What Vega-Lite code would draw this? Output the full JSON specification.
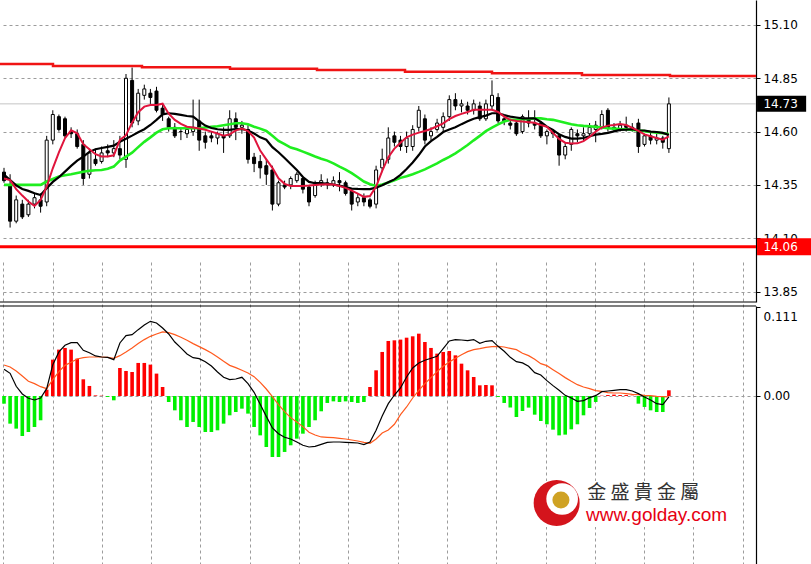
{
"$schema": "https://vega.github.io/schema/vega-lite/v6.json",
"autosize": {"type": "none"},
"padding": {"left": 0, "top": 0, "right": 55, "bottom": 0},
"width": 756,
"height": 564,
"background": "white",
"config": {
"view": {"stroke": null},
"scale": {"continuousPadding": 0},
"axis": {"labelFont": "DejaVu Sans", "labelFontSize": 12, "labelColor": "#000000", "domainColor": "#000000", "tickColor": "#000000", "gridColor": "#9c9c9c", "gridDash": [3, 3], "gridWidth": 1}
},
"datasets": {
"ohlc": [
{"t":0,"o":14.41,"h":14.43,"l":14.36,"c":14.37,"r":14.380,"k":14.398,"g":14.350,"hs":-0.0096,"m":0.0333,"s":0.0387},
{"t":1,"o":14.35,"h":14.40,"l":14.15,"c":14.18,"r":14.373,"k":14.373,"g":14.350,"hs":-0.0345,"m":0.0283,"s":0.0362},
{"t":2,"o":14.18,"h":14.30,"l":14.17,"c":14.28,"r":14.330,"k":14.348,"g":14.350,"hs":-0.0407,"m":0.0121,"s":0.0312},
{"t":3,"o":14.26,"h":14.28,"l":14.19,"c":14.20,"r":14.300,"k":14.331,"g":14.350,"hs":-0.0499,"m":0.0025,"s":0.0249},
{"t":4,"o":14.21,"h":14.28,"l":14.20,"c":14.26,"r":14.272,"k":14.322,"g":14.350,"hs":-0.0449,"m":-0.0029,"s":0.0183},
{"t":5,"o":14.26,"h":14.31,"l":14.24,"c":14.29,"r":14.251,"k":14.311,"g":14.350,"hs":-0.0387,"m":-0.0050,"s":0.0154},
{"t":6,"o":14.28,"h":14.31,"l":14.22,"c":14.25,"r":14.280,"k":14.303,"g":14.350,"hs":-0.0303,"m":-0.0025,"s":0.0116},
{"t":7,"o":14.27,"h":14.58,"l":14.25,"c":14.56,"r":14.342,"k":14.334,"g":14.366,"hs":0.0079,"m":0.0091,"s":0.0091},
{"t":8,"o":14.56,"h":14.70,"l":14.54,"c":14.68,"r":14.428,"k":14.364,"g":14.378,"hs":0.0453,"m":0.0391,"s":0.0204},
{"t":9,"o":14.67,"h":14.68,"l":14.60,"c":14.61,"r":14.503,"k":14.386,"g":14.389,"hs":0.0578,"m":0.0549,"s":0.0303},
{"t":10,"o":14.66,"h":14.67,"l":14.57,"c":14.58,"r":14.569,"k":14.412,"g":14.395,"hs":0.0599,"m":0.0632,"s":0.0382},
{"t":11,"o":14.60,"h":14.62,"l":14.57,"c":14.59,"r":14.606,"k":14.439,"g":14.400,"hs":0.0578,"m":0.0665,"s":0.0420},
{"t":12,"o":14.59,"h":14.61,"l":14.52,"c":14.53,"r":14.592,"k":14.464,"g":14.406,"hs":0.0466,"m":0.0665,"s":0.0461},
{"t":13,"o":14.54,"h":14.56,"l":14.35,"c":14.38,"r":14.541,"k":14.483,"g":14.412,"hs":0.0208,"m":0.0570,"s":0.0478},
{"t":14,"o":14.40,"h":14.52,"l":14.38,"c":14.50,"r":14.517,"k":14.505,"g":14.416,"hs":0.0125,"m":0.0540,"s":0.0486},
{"t":15,"o":14.47,"h":14.52,"l":14.44,"c":14.45,"r":14.494,"k":14.517,"g":14.419,"hs":0.0008,"m":0.0499,"s":0.0486},
{"t":16,"o":14.46,"h":14.53,"l":14.45,"c":14.50,"r":14.483,"k":14.523,"g":14.420,"hs":0.0004,"m":0.0486,"s":0.0486},
{"t":17,"o":14.51,"h":14.54,"l":14.48,"c":14.50,"r":14.483,"k":14.528,"g":14.426,"hs":-0.0012,"m":0.0482,"s":0.0482},
{"t":18,"o":14.50,"h":14.56,"l":14.48,"c":14.52,"r":14.489,"k":14.534,"g":14.436,"hs":-0.0054,"m":0.0453,"s":0.0470},
{"t":19,"o":14.52,"h":14.58,"l":14.47,"c":14.49,"r":14.561,"k":14.552,"g":14.464,"hs":0.0349,"m":0.0661,"s":0.0503},
{"t":20,"o":14.47,"h":14.87,"l":14.43,"c":14.85,"r":14.583,"k":14.566,"g":14.483,"hs":0.0312,"m":0.0752,"s":0.0549},
{"t":21,"o":14.84,"h":14.90,"l":14.62,"c":14.64,"r":14.642,"k":14.581,"g":14.501,"hs":0.0299,"m":0.0765,"s":0.0599},
{"t":22,"o":14.65,"h":14.80,"l":14.63,"c":14.78,"r":14.691,"k":14.597,"g":14.527,"hs":0.0412,"m":0.0827,"s":0.0653},
{"t":23,"o":14.77,"h":14.82,"l":14.75,"c":14.80,"r":14.717,"k":14.611,"g":14.552,"hs":0.0412,"m":0.0885,"s":0.0703},
{"t":24,"o":14.78,"h":14.80,"l":14.73,"c":14.76,"r":14.725,"k":14.631,"g":14.573,"hs":0.0391,"m":0.0931,"s":0.0744},
{"t":25,"o":14.79,"h":14.81,"l":14.69,"c":14.70,"r":14.725,"k":14.655,"g":14.595,"hs":0.0279,"m":0.0910,"s":0.0773},
{"t":26,"o":14.71,"h":14.73,"l":14.65,"c":14.68,"r":14.731,"k":14.681,"g":14.611,"hs":0.0112,"m":0.0848,"s":0.0798},
{"t":27,"o":14.66,"h":14.67,"l":14.60,"c":14.62,"r":14.684,"k":14.686,"g":14.616,"hs":-0.0075,"m":0.0773,"s":0.0790},
{"t":28,"o":14.62,"h":14.64,"l":14.57,"c":14.58,"r":14.655,"k":14.683,"g":14.616,"hs":-0.0179,"m":0.0673,"s":0.0765},
{"t":29,"o":14.60,"h":14.62,"l":14.56,"c":14.60,"r":14.636,"k":14.678,"g":14.616,"hs":-0.0303,"m":0.0599,"s":0.0732},
{"t":30,"o":14.59,"h":14.62,"l":14.57,"c":14.61,"r":14.623,"k":14.673,"g":14.616,"hs":-0.0387,"m":0.0524,"s":0.0694},
{"t":31,"o":14.60,"h":14.75,"l":14.58,"c":14.62,"r":14.619,"k":14.670,"g":14.616,"hs":-0.0324,"m":0.0478,"s":0.0653},
{"t":32,"o":14.65,"h":14.75,"l":14.51,"c":14.56,"r":14.614,"k":14.648,"g":14.616,"hs":-0.0387,"m":0.0466,"s":0.0615},
{"t":33,"o":14.58,"h":14.60,"l":14.52,"c":14.55,"r":14.609,"k":14.628,"g":14.619,"hs":-0.0449,"m":0.0428,"s":0.0578},
{"t":34,"o":14.58,"h":14.60,"l":14.55,"c":14.57,"r":14.600,"k":14.617,"g":14.622,"hs":-0.0449,"m":0.0374,"s":0.0536},
{"t":35,"o":14.57,"h":14.60,"l":14.54,"c":14.59,"r":14.591,"k":14.611,"g":14.625,"hs":-0.0428,"m":0.0299,"s":0.0486},
{"t":36,"o":14.58,"h":14.62,"l":14.50,"c":14.57,"r":14.581,"k":14.608,"g":14.630,"hs":-0.0345,"m":0.0233,"s":0.0432},
{"t":37,"o":14.58,"h":14.70,"l":14.57,"c":14.66,"r":14.587,"k":14.608,"g":14.634,"hs":-0.0241,"m":0.0204,"s":0.0382},
{"t":38,"o":14.66,"h":14.69,"l":14.56,"c":14.62,"r":14.606,"k":14.612,"g":14.639,"hs":-0.0200,"m":0.0212,"s":0.0353},
{"t":39,"o":14.62,"h":14.65,"l":14.59,"c":14.63,"r":14.614,"k":14.612,"g":14.639,"hs":-0.0158,"m":0.0233,"s":0.0320},
{"t":40,"o":14.61,"h":14.63,"l":14.45,"c":14.47,"r":14.602,"k":14.605,"g":14.634,"hs":-0.0220,"m":0.0154,"s":0.0287},
{"t":41,"o":14.48,"h":14.50,"l":14.41,"c":14.45,"r":14.572,"k":14.591,"g":14.623,"hs":-0.0387,"m":0.0046,"s":0.0241},
{"t":42,"o":14.46,"h":14.49,"l":14.38,"c":14.43,"r":14.511,"k":14.573,"g":14.614,"hs":-0.0491,"m":-0.0104,"s":0.0170},
{"t":43,"o":14.44,"h":14.47,"l":14.35,"c":14.40,"r":14.470,"k":14.562,"g":14.603,"hs":-0.0636,"m":-0.0254,"s":0.0087},
{"t":44,"o":14.42,"h":14.44,"l":14.23,"c":14.26,"r":14.430,"k":14.527,"g":14.580,"hs":-0.0761,"m":-0.0399,"s":-0.0008},
{"t":45,"o":14.26,"h":14.37,"l":14.25,"c":14.36,"r":14.381,"k":14.503,"g":14.556,"hs":-0.0761,"m":-0.0470,"s":-0.0108},
{"t":46,"o":14.35,"h":14.37,"l":14.33,"c":14.34,"r":14.355,"k":14.476,"g":14.541,"hs":-0.0698,"m":-0.0515,"s":-0.0195},
{"t":47,"o":14.35,"h":14.39,"l":14.33,"c":14.38,"r":14.345,"k":14.448,"g":14.525,"hs":-0.0615,"m":-0.0536,"s":-0.0270},
{"t":48,"o":14.37,"h":14.41,"l":14.36,"c":14.40,"r":14.345,"k":14.420,"g":14.517,"hs":-0.0532,"m":-0.0574,"s":-0.0324},
{"t":49,"o":14.38,"h":14.39,"l":14.31,"c":14.33,"r":14.345,"k":14.387,"g":14.506,"hs":-0.0470,"m":-0.0615,"s":-0.0382},
{"t":50,"o":14.34,"h":14.35,"l":14.25,"c":14.27,"r":14.347,"k":14.364,"g":14.495,"hs":-0.0387,"m":-0.0636,"s":-0.0453},
{"t":51,"o":14.30,"h":14.37,"l":14.29,"c":14.35,"r":14.350,"k":14.358,"g":14.483,"hs":-0.0303,"m":-0.0628,"s":-0.0486},
{"t":52,"o":14.36,"h":14.40,"l":14.34,"c":14.37,"r":14.352,"k":14.358,"g":14.473,"hs":-0.0191,"m":-0.0603,"s":-0.0511},
{"t":53,"o":14.36,"h":14.38,"l":14.33,"c":14.35,"r":14.353,"k":14.355,"g":14.464,"hs":-0.0087,"m":-0.0578,"s":-0.0515},
{"t":54,"o":14.35,"h":14.39,"l":14.34,"c":14.37,"r":14.352,"k":14.352,"g":14.451,"hs":-0.0067,"m":-0.0574,"s":-0.0520},
{"t":55,"o":14.37,"h":14.41,"l":14.32,"c":14.36,"r":14.345,"k":14.347,"g":14.436,"hs":-0.0075,"m":-0.0574,"s":-0.0528},
{"t":56,"o":14.36,"h":14.37,"l":14.30,"c":14.31,"r":14.336,"k":14.340,"g":14.422,"hs":-0.0067,"m":-0.0578,"s":-0.0536},
{"t":57,"o":14.32,"h":14.33,"l":14.23,"c":14.26,"r":14.323,"k":14.333,"g":14.405,"hs":-0.0075,"m":-0.0582,"s":-0.0549},
{"t":58,"o":14.27,"h":14.31,"l":14.25,"c":14.29,"r":14.309,"k":14.331,"g":14.386,"hs":-0.0087,"m":-0.0586,"s":-0.0561},
{"t":59,"o":14.29,"h":14.31,"l":14.25,"c":14.27,"r":14.294,"k":14.330,"g":14.366,"hs":-0.0075,"m":-0.0607,"s":-0.0578},
{"t":60,"o":14.28,"h":14.29,"l":14.24,"c":14.25,"r":14.298,"k":14.330,"g":14.353,"hs":0.0112,"m":-0.0574,"s":-0.0590},
{"t":61,"o":14.26,"h":14.44,"l":14.24,"c":14.42,"r":14.342,"k":14.337,"g":14.345,"hs":0.0320,"m":-0.0428,"s":-0.0536},
{"t":62,"o":14.43,"h":14.52,"l":14.41,"c":14.47,"r":14.416,"k":14.348,"g":14.352,"hs":0.0549,"m":-0.0249,"s":-0.0461},
{"t":63,"o":14.47,"h":14.62,"l":14.45,"c":14.57,"r":14.480,"k":14.362,"g":14.361,"hs":0.0686,"m":-0.0096,"s":-0.0424},
{"t":64,"o":14.58,"h":14.60,"l":14.53,"c":14.55,"r":14.520,"k":14.376,"g":14.372,"hs":0.0694,"m":0.0012,"s":-0.0353},
{"t":65,"o":14.56,"h":14.58,"l":14.51,"c":14.53,"r":14.548,"k":14.397,"g":14.383,"hs":0.0703,"m":0.0100,"s":-0.0233},
{"t":66,"o":14.53,"h":14.60,"l":14.50,"c":14.57,"r":14.573,"k":14.425,"g":14.391,"hs":0.0727,"m":0.0237,"s":-0.0137},
{"t":67,"o":14.53,"h":14.63,"l":14.51,"c":14.61,"r":14.586,"k":14.455,"g":14.400,"hs":0.0744,"m":0.0349,"s":-0.0025},
{"t":68,"o":14.62,"h":14.72,"l":14.60,"c":14.70,"r":14.595,"k":14.490,"g":14.411,"hs":0.0777,"m":0.0412,"s":0.0071},
{"t":69,"o":14.66,"h":14.68,"l":14.54,"c":14.56,"r":14.603,"k":14.530,"g":14.423,"hs":0.0673,"m":0.0445,"s":0.0154},
{"t":70,"o":14.58,"h":14.62,"l":14.56,"c":14.60,"r":14.612,"k":14.555,"g":14.437,"hs":0.0599,"m":0.0470,"s":0.0229},
{"t":71,"o":14.61,"h":14.66,"l":14.60,"c":14.64,"r":14.625,"k":14.575,"g":14.451,"hs":0.0528,"m":0.0495,"s":0.0303},
{"t":72,"o":14.62,"h":14.69,"l":14.60,"c":14.67,"r":14.639,"k":14.598,"g":14.467,"hs":0.0549,"m":0.0590,"s":0.0370},
{"t":73,"o":14.67,"h":14.77,"l":14.65,"c":14.75,"r":14.658,"k":14.610,"g":14.481,"hs":0.0561,"m":0.0686,"s":0.0424},
{"t":74,"o":14.75,"h":14.78,"l":14.70,"c":14.72,"r":14.673,"k":14.620,"g":14.498,"hs":0.0507,"m":0.0703,"s":0.0470},
{"t":75,"o":14.72,"h":14.75,"l":14.69,"c":14.73,"r":14.683,"k":14.635,"g":14.517,"hs":0.0403,"m":0.0698,"s":0.0515},
{"t":76,"o":14.72,"h":14.74,"l":14.68,"c":14.70,"r":14.692,"k":14.648,"g":14.537,"hs":0.0320,"m":0.0690,"s":0.0553},
{"t":77,"o":14.70,"h":14.75,"l":14.68,"c":14.73,"r":14.702,"k":14.660,"g":14.559,"hs":0.0237,"m":0.0703,"s":0.0578},
{"t":78,"o":14.72,"h":14.74,"l":14.65,"c":14.66,"r":14.702,"k":14.668,"g":14.580,"hs":0.0133,"m":0.0657,"s":0.0590},
{"t":79,"o":14.66,"h":14.75,"l":14.65,"c":14.73,"r":14.702,"k":14.675,"g":14.602,"hs":0.0137,"m":0.0682,"s":0.0607},
{"t":80,"o":14.72,"h":14.84,"l":14.70,"c":14.77,"r":14.702,"k":14.686,"g":14.619,"hs":0.0133,"m":0.0690,"s":0.0615},
{"t":81,"o":14.76,"h":14.78,"l":14.64,"c":14.65,"r":14.692,"k":14.686,"g":14.634,"hs":-0.0012,"m":0.0619,"s":0.0619},
{"t":82,"o":14.66,"h":14.67,"l":14.63,"c":14.65,"r":14.670,"k":14.677,"g":14.647,"hs":-0.0087,"m":0.0557,"s":0.0611},
{"t":83,"o":14.64,"h":14.66,"l":14.61,"c":14.63,"r":14.655,"k":14.670,"g":14.655,"hs":-0.0145,"m":0.0482,"s":0.0594},
{"t":84,"o":14.64,"h":14.65,"l":14.58,"c":14.59,"r":14.650,"k":14.666,"g":14.656,"hs":-0.0262,"m":0.0428,"s":0.0578},
{"t":85,"o":14.60,"h":14.68,"l":14.59,"c":14.67,"r":14.647,"k":14.662,"g":14.658,"hs":-0.0187,"m":0.0412,"s":0.0532},
{"t":86,"o":14.66,"h":14.70,"l":14.62,"c":14.64,"r":14.644,"k":14.662,"g":14.659,"hs":-0.0145,"m":0.0370,"s":0.0503},
{"t":87,"o":14.64,"h":14.70,"l":14.61,"c":14.63,"r":14.641,"k":14.662,"g":14.662,"hs":-0.0233,"m":0.0291,"s":0.0457},
{"t":88,"o":14.64,"h":14.65,"l":14.57,"c":14.58,"r":14.631,"k":14.645,"g":14.662,"hs":-0.0312,"m":0.0262,"s":0.0403},
{"t":89,"o":14.58,"h":14.61,"l":14.54,"c":14.60,"r":14.623,"k":14.623,"g":14.658,"hs":-0.0353,"m":0.0191,"s":0.0378},
{"t":90,"o":14.60,"h":14.61,"l":14.57,"c":14.59,"r":14.594,"k":14.608,"g":14.655,"hs":-0.0420,"m":0.0129,"s":0.0328},
{"t":91,"o":14.58,"h":14.59,"l":14.44,"c":14.49,"r":14.566,"k":14.587,"g":14.648,"hs":-0.0491,"m":0.0071,"s":0.0279},
{"t":92,"o":14.49,"h":14.55,"l":14.47,"c":14.53,"r":14.548,"k":14.575,"g":14.641,"hs":-0.0482,"m":0.0008,"s":0.0229},
{"t":93,"o":14.54,"h":14.62,"l":14.51,"c":14.61,"r":14.544,"k":14.567,"g":14.634,"hs":-0.0416,"m":-0.0025,"s":0.0183},
{"t":94,"o":14.59,"h":14.61,"l":14.55,"c":14.58,"r":14.545,"k":14.567,"g":14.630,"hs":-0.0353,"m":-0.0067,"s":0.0141},
{"t":95,"o":14.58,"h":14.62,"l":14.56,"c":14.59,"r":14.555,"k":14.570,"g":14.627,"hs":-0.0241,"m":-0.0058,"s":0.0112},
{"t":96,"o":14.59,"h":14.64,"l":14.58,"c":14.62,"r":14.575,"k":14.578,"g":14.625,"hs":-0.0150,"m":-0.0021,"s":0.0091},
{"t":97,"o":14.61,"h":14.65,"l":14.55,"c":14.63,"r":14.600,"k":14.586,"g":14.622,"hs":-0.0075,"m":0.0004,"s":0.0067},
{"t":98,"o":14.62,"h":14.70,"l":14.61,"c":14.68,"r":14.619,"k":14.589,"g":14.619,"hs":0.0004,"m":0.0054,"s":0.0058},
{"t":99,"o":14.70,"h":14.71,"l":14.60,"c":14.62,"r":14.628,"k":14.594,"g":14.616,"hs":0.0012,"m":0.0062,"s":0.0042},
{"t":100,"o":14.62,"h":14.64,"l":14.60,"c":14.61,"r":14.631,"k":14.601,"g":14.614,"hs":0.0017,"m":0.0071,"s":0.0037},
{"t":101,"o":14.61,"h":14.65,"l":14.60,"c":14.63,"r":14.636,"k":14.608,"g":14.612,"hs":0.0012,"m":0.0079,"s":0.0037},
{"t":102,"o":14.63,"h":14.67,"l":14.60,"c":14.62,"r":14.631,"k":14.609,"g":14.611,"hs":0.0012,"m":0.0079,"s":0.0029},
{"t":103,"o":14.62,"h":14.64,"l":14.60,"c":14.61,"r":14.617,"k":14.611,"g":14.608,"hs":0.0004,"m":0.0062,"s":0.0021},
{"t":104,"o":14.64,"h":14.66,"l":14.50,"c":14.53,"r":14.603,"k":14.606,"g":14.605,"hs":-0.0096,"m":0.0029,"s":0.0017},
{"t":105,"o":14.54,"h":14.59,"l":14.53,"c":14.58,"r":14.587,"k":14.605,"g":14.602,"hs":-0.0137,"m":-0.0012,"s":0.0008},
{"t":106,"o":14.58,"h":14.60,"l":14.54,"c":14.56,"r":14.578,"k":14.600,"g":14.598,"hs":-0.0179,"m":-0.0050,"s":0.0004},
{"t":107,"o":14.56,"h":14.59,"l":14.54,"c":14.57,"r":14.570,"k":14.598,"g":14.595,"hs":-0.0200,"m":-0.0096,"s":-0.0004},
{"t":108,"o":14.57,"h":14.58,"l":14.52,"c":14.55,"r":14.562,"k":14.594,"g":14.592,"hs":-0.0200,"m":-0.0108,"s":-0.0008},
{"t":109,"o":14.52,"h":14.76,"l":14.50,"c":14.73,"r":14.578,"k":14.584,"g":14.589,"hs":0.0071,"m":-0.0012,"s":-0.0012}
],
"resist": [
{"t":-0.66,"p":14.917},{"t":8.03,"p":14.908},{"t":22.62,"p":14.902},{"t":37.05,"p":14.895},{"t":51.31,"p":14.889},{"t":65.74,"p":14.881},{"t":80.0,"p":14.873},{"t":94.75,"p":14.865},{"t":109.18,"p":14.861},{"t":123.28,"p":14.861}
],
"tags": [
{"p":14.73,"label":"14.73","kind":"price"},
{"p":14.06,"label":"14.06","kind":"support"}
],
"info": [
{"name":"金  盛  貴  金  屬","site":"www.golday.com"}
]
},
"resolve": {"scale": {"y": "independent"}, "axis": {"y": "independent"}},
"layer": [
{
"layer": [
{
"data": {"name": "tags"},
"mark": {"type": "rule", "clip": true},
"encoding": {
"y": {"field": "p", "type": "quantitative", "scale": {"domain": [13.801, 15.217], "range": [302, 0], "nice": false, "zero": false, "padding": 0},
"axis": {"orient": "right", "values": [13.85, 14.1, 14.35, 14.6, 14.85, 15.1], "format": ".2f", "tickSize": 4, "labelPadding": 3, "grid": true, "title": null, "domainWidth": 1.2}},
"color": {"condition": {"test": "datum.kind == 'support'", "value": "#ff0000"}, "value": "#c4c4c4"},
"strokeWidth": {"condition": {"test": "datum.kind == 'support'", "value": 3}, "value": 1}
}
},
{
"data": {"name": "info"},
"mark": {"type": "rule", "color": "#000000", "strokeWidth": 1.2},
"encoding": {
"y": {"datum": 13.801, "type": "quantitative", "scale": {"domain": [13.801, 15.217], "range": [302, 0], "nice": false, "zero": false, "padding": 0},
"axis": {"orient": "right", "values": [13.85, 14.1, 14.35, 14.6, 14.85, 15.1], "format": ".2f", "tickSize": 4, "labelPadding": 3, "grid": true, "title": null, "domainWidth": 1.2}}
}
},
{
"data": {"name": "resist"},
"mark": {"type": "line", "clip": true, "interpolate": "step-after", "color": "#f01414", "strokeWidth": 2.5},
"encoding": {
"x": {"field": "t", "type": "quantitative", "scale": {"domain": [-0.656, 123.28], "nice": false, "zero": false, "padding": 0},
"axis": {"orient": "bottom", "values": [-0.11, 7.97, 16.05, 24.13, 32.21, 40.3, 48.38, 56.46, 64.54, 72.62, 80.7, 88.79, 96.87, 104.95, 113.03, 121.11], "labels": false, "ticks": false, "domain": false, "grid": true, "title": null}},
"y": {"field": "p", "type": "quantitative", "scale": {"domain": [13.801, 15.217], "range": [302, 0], "nice": false, "zero": false, "padding": 0},
"axis": {"orient": "right", "values": [13.85, 14.1, 14.35, 14.6, 14.85, 15.1], "format": ".2f", "tickSize": 4, "labelPadding": 3, "grid": true, "title": null, "domainWidth": 1.2}}
}
},
{
"data": {"name": "ohlc"},
"mark": {"type": "rule", "clip": true, "color": "#000000", "strokeWidth": 1},
"encoding": {
"x": {"field": "t", "type": "quantitative", "scale": {"domain": [-0.656, 123.28], "nice": false, "zero": false, "padding": 0},
"axis": {"orient": "bottom", "values": [-0.11, 7.97, 16.05, 24.13, 32.21, 40.3, 48.38, 56.46, 64.54, 72.62, 80.7, 88.79, 96.87, 104.95, 113.03, 121.11], "labels": false, "ticks": false, "domain": false, "grid": true, "title": null}},
"y": {"field": "l", "type": "quantitative", "scale": {"domain": [13.801, 15.217], "range": [302, 0], "nice": false, "zero": false, "padding": 0},
"axis": {"orient": "right", "values": [13.85, 14.1, 14.35, 14.6, 14.85, 15.1], "format": ".2f", "tickSize": 4, "labelPadding": 3, "grid": true, "title": null, "domainWidth": 1.2}},
"y2": {"field": "h"}
}
},
{
"data": {"name": "ohlc"},
"mark": {"type": "bar", "clip": true, "size": 3, "stroke": "#000000", "strokeWidth": 1},
"encoding": {
"x": {"field": "t", "type": "quantitative", "scale": {"domain": [-0.656, 123.28], "nice": false, "zero": false, "padding": 0},
"axis": {"orient": "bottom", "values": [-0.11, 7.97, 16.05, 24.13, 32.21, 40.3, 48.38, 56.46, 64.54, 72.62, 80.7, 88.79, 96.87, 104.95, 113.03, 121.11], "labels": false, "ticks": false, "domain": false, "grid": true, "title": null}},
"y": {"field": "o", "type": "quantitative", "scale": {"domain": [13.801, 15.217], "range": [302, 0], "nice": false, "zero": false, "padding": 0},
"axis": {"orient": "right", "values": [13.85, 14.1, 14.35, 14.6, 14.85, 15.1], "format": ".2f", "tickSize": 4, "labelPadding": 3, "grid": true, "title": null, "domainWidth": 1.2}},
"y2": {"field": "c"},
"fill": {"condition": {"test": "datum.c >= datum.o", "value": "#ffffff"}, "value": "#000000"}
}
},
{
"data": {"name": "ohlc"},
"mark": {"type": "line", "clip": true, "color": "#1fee1f", "strokeWidth": 2.6},
"encoding": {
"x": {"field": "t", "type": "quantitative", "scale": {"domain": [-0.656, 123.28], "nice": false, "zero": false, "padding": 0},
"axis": {"orient": "bottom", "values": [-0.11, 7.97, 16.05, 24.13, 32.21, 40.3, 48.38, 56.46, 64.54, 72.62, 80.7, 88.79, 96.87, 104.95, 113.03, 121.11], "labels": false, "ticks": false, "domain": false, "grid": true, "title": null}},
"y": {"field": "g", "type": "quantitative", "scale": {"domain": [13.801, 15.217], "range": [302, 0], "nice": false, "zero": false, "padding": 0},
"axis": {"orient": "right", "values": [13.85, 14.1, 14.35, 14.6, 14.85, 15.1], "format": ".2f", "tickSize": 4, "labelPadding": 3, "grid": true, "title": null, "domainWidth": 1.2}}
}
},
{
"data": {"name": "ohlc"},
"mark": {"type": "line", "clip": true, "color": "#000000", "strokeWidth": 2.2},
"encoding": {
"x": {"field": "t", "type": "quantitative", "scale": {"domain": [-0.656, 123.28], "nice": false, "zero": false, "padding": 0},
"axis": {"orient": "bottom", "values": [-0.11, 7.97, 16.05, 24.13, 32.21, 40.3, 48.38, 56.46, 64.54, 72.62, 80.7, 88.79, 96.87, 104.95, 113.03, 121.11], "labels": false, "ticks": false, "domain": false, "grid": true, "title": null}},
"y": {"field": "k", "type": "quantitative", "scale": {"domain": [13.801, 15.217], "range": [302, 0], "nice": false, "zero": false, "padding": 0},
"axis": {"orient": "right", "values": [13.85, 14.1, 14.35, 14.6, 14.85, 15.1], "format": ".2f", "tickSize": 4, "labelPadding": 3, "grid": true, "title": null, "domainWidth": 1.2}}
}
},
{
"data": {"name": "ohlc"},
"mark": {"type": "line", "clip": true, "color": "#e0143c", "strokeWidth": 2},
"encoding": {
"x": {"field": "t", "type": "quantitative", "scale": {"domain": [-0.656, 123.28], "nice": false, "zero": false, "padding": 0},
"axis": {"orient": "bottom", "values": [-0.11, 7.97, 16.05, 24.13, 32.21, 40.3, 48.38, 56.46, 64.54, 72.62, 80.7, 88.79, 96.87, 104.95, 113.03, 121.11], "labels": false, "ticks": false, "domain": false, "grid": true, "title": null}},
"y": {"field": "r", "type": "quantitative", "scale": {"domain": [13.801, 15.217], "range": [302, 0], "nice": false, "zero": false, "padding": 0},
"axis": {"orient": "right", "values": [13.85, 14.1, 14.35, 14.6, 14.85, 15.1], "format": ".2f", "tickSize": 4, "labelPadding": 3, "grid": true, "title": null, "domainWidth": 1.2}}
}
},
{
"data": {"name": "tags"},
"transform": [{"filter": "datum.kind == 'price'"}],
"mark": {"type": "bar", "size": 16, "color": "#000000"},
"encoding": {
"x": {"datum": 123.45, "type": "quantitative", "scale": {"domain": [-0.656, 123.28], "nice": false, "zero": false, "padding": 0},
"axis": {"orient": "bottom", "values": [-0.11, 7.97, 16.05, 24.13, 32.21, 40.3, 48.38, 56.46, 64.54, 72.62, 80.7, 88.79, 96.87, 104.95, 113.03, 121.11], "labels": false, "ticks": false, "domain": false, "grid": true, "title": null}},
"x2": {"datum": 131.5},
"y": {"field": "p", "type": "quantitative", "scale": {"domain": [13.801, 15.217], "range": [302, 0], "nice": false, "zero": false, "padding": 0},
"axis": {"orient": "right", "values": [13.85, 14.1, 14.35, 14.6, 14.85, 15.1], "format": ".2f", "tickSize": 4, "labelPadding": 3, "grid": true, "title": null, "domainWidth": 1.2}}
}
},
{
"data": {"name": "tags"},
"transform": [{"filter": "datum.kind == 'support'"}],
"mark": {"type": "bar", "size": 17, "color": "#ff0000"},
"encoding": {
"x": {"datum": 123.45, "type": "quantitative", "scale": {"domain": [-0.656, 123.28], "nice": false, "zero": false, "padding": 0},
"axis": {"orient": "bottom", "values": [-0.11, 7.97, 16.05, 24.13, 32.21, 40.3, 48.38, 56.46, 64.54, 72.62, 80.7, 88.79, 96.87, 104.95, 113.03, 121.11], "labels": false, "ticks": false, "domain": false, "grid": true, "title": null}},
"x2": {"datum": 132.3},
"y": {"field": "p", "type": "quantitative", "scale": {"domain": [13.801, 15.217], "range": [302, 0], "nice": false, "zero": false, "padding": 0},
"axis": {"orient": "right", "values": [13.85, 14.1, 14.35, 14.6, 14.85, 15.1], "format": ".2f", "tickSize": 4, "labelPadding": 3, "grid": true, "title": null, "domainWidth": 1.2}}
}
},
{
"data": {"name": "tags"},
"mark": {"type": "text", "align": "left", "baseline": "middle", "font": "DejaVu Sans", "fontSize": 12, "color": "#ffffff"},
"encoding": {
"x": {"datum": 124.5, "type": "quantitative", "scale": {"domain": [-0.656, 123.28], "nice": false, "zero": false, "padding": 0},
"axis": {"orient": "bottom", "values": [-0.11, 7.97, 16.05, 24.13, 32.21, 40.3, 48.38, 56.46, 64.54, 72.62, 80.7, 88.79, 96.87, 104.95, 113.03, 121.11], "labels": false, "ticks": false, "domain": false, "grid": true, "title": null}},
"y": {"field": "p", "type": "quantitative", "scale": {"domain": [13.801, 15.217], "range": [302, 0], "nice": false, "zero": false, "padding": 0},
"axis": {"orient": "right", "values": [13.85, 14.1, 14.35, 14.6, 14.85, 15.1], "format": ".2f", "tickSize": 4, "labelPadding": 3, "grid": true, "title": null, "domainWidth": 1.2}},
"text": {"field": "label"}
}
}
]
},
{
"layer": [
{
"data": {"name": "info"},
"mark": {"type": "rule", "color": "#000000", "strokeWidth": 1.2},
"encoding": {
"y": {"datum": 0.1122, "type": "quantitative", "scale": {"domain": [-0.2095, 0.1122], "range": [564, 306], "nice": false, "zero": false, "padding": 0},
"axis": {"orient": "right", "values": [0.111, 0], "labelExpr": "datum.value == 0 ? '0.00' : '0.111'", "tickSize": 4, "labelPadding": 3, "grid": true, "gridOpacity": {"condition": {"test": "datum.value == 0", "value": 1}, "value": 0}, "labelOffset": {"condition": {"test": "datum.value > 0.05", "value": 10}, "value": 0}, "title": null, "domainWidth": 1.2}}
}
},
{
"data": {"name": "ohlc"},
"mark": {"type": "bar", "clip": true, "size": 3.6},
"encoding": {
"x": {"field": "t", "type": "quantitative", "scale": {"domain": [-0.656, 123.28], "nice": false, "zero": false, "padding": 0},
"axis": {"orient": "bottom", "values": [-0.11, 7.97, 16.05, 24.13, 32.21, 40.3, 48.38, 56.46, 64.54, 72.62, 80.7, 88.79, 96.87, 104.95, 113.03, 121.11], "labels": false, "ticks": false, "domain": false, "grid": true, "title": null}},
"y": {"field": "hs", "type": "quantitative", "scale": {"domain": [-0.2095, 0.1122], "range": [564, 306], "nice": false, "zero": false, "padding": 0},
"axis": {"orient": "right", "values": [0.111, 0], "labelExpr": "datum.value == 0 ? '0.00' : '0.111'", "tickSize": 4, "labelPadding": 3, "grid": true, "gridOpacity": {"condition": {"test": "datum.value == 0", "value": 1}, "value": 0}, "labelOffset": {"condition": {"test": "datum.value > 0.05", "value": 10}, "value": 0}, "title": null, "domainWidth": 1.2}},
"y2": {"datum": 0},
"color": {"condition": {"test": "datum.hs >= 0", "value": "#ff0000"}, "value": "#00f000"}
}
},
{
"data": {"name": "ohlc"},
"mark": {"type": "line", "clip": true, "color": "#ff5a1e", "strokeWidth": 1.2},
"encoding": {
"x": {"field": "t", "type": "quantitative", "scale": {"domain": [-0.656, 123.28], "nice": false, "zero": false, "padding": 0},
"axis": {"orient": "bottom", "values": [-0.11, 7.97, 16.05, 24.13, 32.21, 40.3, 48.38, 56.46, 64.54, 72.62, 80.7, 88.79, 96.87, 104.95, 113.03, 121.11], "labels": false, "ticks": false, "domain": false, "grid": true, "title": null}},
"y": {"field": "s", "type": "quantitative", "scale": {"domain": [-0.2095, 0.1122], "range": [564, 306], "nice": false, "zero": false, "padding": 0},
"axis": {"orient": "right", "values": [0.111, 0], "labelExpr": "datum.value == 0 ? '0.00' : '0.111'", "tickSize": 4, "labelPadding": 3, "grid": true, "gridOpacity": {"condition": {"test": "datum.value == 0", "value": 1}, "value": 0}, "labelOffset": {"condition": {"test": "datum.value > 0.05", "value": 10}, "value": 0}, "title": null, "domainWidth": 1.2}}
}
},
{
"data": {"name": "ohlc"},
"mark": {"type": "line", "clip": true, "color": "#000000", "strokeWidth": 1.2},
"encoding": {
"x": {"field": "t", "type": "quantitative", "scale": {"domain": [-0.656, 123.28], "nice": false, "zero": false, "padding": 0},
"axis": {"orient": "bottom", "values": [-0.11, 7.97, 16.05, 24.13, 32.21, 40.3, 48.38, 56.46, 64.54, 72.62, 80.7, 88.79, 96.87, 104.95, 113.03, 121.11], "labels": false, "ticks": false, "domain": false, "grid": true, "title": null}},
"y": {"field": "m", "type": "quantitative", "scale": {"domain": [-0.2095, 0.1122], "range": [564, 306], "nice": false, "zero": false, "padding": 0},
"axis": {"orient": "right", "values": [0.111, 0], "labelExpr": "datum.value == 0 ? '0.00' : '0.111'", "tickSize": 4, "labelPadding": 3, "grid": true, "gridOpacity": {"condition": {"test": "datum.value == 0", "value": 1}, "value": 0}, "labelOffset": {"condition": {"test": "datum.value > 0.05", "value": 10}, "value": 0}, "title": null, "domainWidth": 1.2}}
}
},
{
"data": {"name": "info"},
"mark": {"type": "rect", "color": "#ffffff"},
"encoding": {
"x": {"datum": 86.6, "type": "quantitative", "scale": {"domain": [-0.656, 123.28], "nice": false, "zero": false, "padding": 0},
"axis": {"orient": "bottom", "values": [-0.11, 7.97, 16.05, 24.13, 32.21, 40.3, 48.38, 56.46, 64.54, 72.62, 80.7, 88.79, 96.87, 104.95, 113.03, 121.11], "labels": false, "ticks": false, "domain": false, "grid": true, "title": null}},
"x2": {"datum": 119.8},
"y": {"datum": -0.106, "type": "quantitative", "scale": {"domain": [-0.2095, 0.1122], "range": [564, 306], "nice": false, "zero": false, "padding": 0},
"axis": {"orient": "right", "values": [0.111, 0], "labelExpr": "datum.value == 0 ? '0.00' : '0.111'", "tickSize": 4, "labelPadding": 3, "grid": true, "gridOpacity": {"condition": {"test": "datum.value == 0", "value": 1}, "value": 0}, "labelOffset": {"condition": {"test": "datum.value > 0.05", "value": 10}, "value": 0}, "title": null, "domainWidth": 1.2}},
"y2": {"datum": -0.1634}
}
},
{
"data": {"name": "info"},
"mark": {"type": "point", "shape": "circle", "filled": true, "size": 2116, "color": "#d4141c", "opacity": 1},
"encoding": {
"x": {"datum": 90.6, "type": "quantitative", "scale": {"domain": [-0.656, 123.28], "nice": false, "zero": false, "padding": 0},
"axis": {"orient": "bottom", "values": [-0.11, 7.97, 16.05, 24.13, 32.21, 40.3, 48.38, 56.46, 64.54, 72.62, 80.7, 88.79, 96.87, 104.95, 113.03, 121.11], "labels": false, "ticks": false, "domain": false, "grid": true, "title": null}},
"y": {"datum": -0.1334, "type": "quantitative", "scale": {"domain": [-0.2095, 0.1122], "range": [564, 306], "nice": false, "zero": false, "padding": 0},
"axis": {"orient": "right", "values": [0.111, 0], "labelExpr": "datum.value == 0 ? '0.00' : '0.111'", "tickSize": 4, "labelPadding": 3, "grid": true, "gridOpacity": {"condition": {"test": "datum.value == 0", "value": 1}, "value": 0}, "labelOffset": {"condition": {"test": "datum.value > 0.05", "value": 10}, "value": 0}, "title": null, "domainWidth": 1.2}}
}
},
{
"data": {"name": "info"},
"mark": {"type": "point", "shape": "circle", "filled": true, "size": 1000, "color": "#ffffff", "opacity": 1},
"encoding": {
"x": {"datum": 91.5, "type": "quantitative", "scale": {"domain": [-0.656, 123.28], "nice": false, "zero": false, "padding": 0},
"axis": {"orient": "bottom", "values": [-0.11, 7.97, 16.05, 24.13, 32.21, 40.3, 48.38, 56.46, 64.54, 72.62, 80.7, 88.79, 96.87, 104.95, 113.03, 121.11], "labels": false, "ticks": false, "domain": false, "grid": true, "title": null}},
"y": {"datum": -0.1284, "type": "quantitative", "scale": {"domain": [-0.2095, 0.1122], "range": [564, 306], "nice": false, "zero": false, "padding": 0},
"axis": {"orient": "right", "values": [0.111, 0], "labelExpr": "datum.value == 0 ? '0.00' : '0.111'", "tickSize": 4, "labelPadding": 3, "grid": true, "gridOpacity": {"condition": {"test": "datum.value == 0", "value": 1}, "value": 0}, "labelOffset": {"condition": {"test": "datum.value > 0.05", "value": 10}, "value": 0}, "title": null, "domainWidth": 1.2}}
}
},
{
"data": {"name": "info"},
"mark": {"type": "point", "shape": "circle", "filled": true, "size": 290, "color": "#cfa224", "opacity": 1},
"encoding": {
"x": {"datum": 91.3, "type": "quantitative", "scale": {"domain": [-0.656, 123.28], "nice": false, "zero": false, "padding": 0},
"axis": {"orient": "bottom", "values": [-0.11, 7.97, 16.05, 24.13, 32.21, 40.3, 48.38, 56.46, 64.54, 72.62, 80.7, 88.79, 96.87, 104.95, 113.03, 121.11], "labels": false, "ticks": false, "domain": false, "grid": true, "title": null}},
"y": {"datum": -0.1297, "type": "quantitative", "scale": {"domain": [-0.2095, 0.1122], "range": [564, 306], "nice": false, "zero": false, "padding": 0},
"axis": {"orient": "right", "values": [0.111, 0], "labelExpr": "datum.value == 0 ? '0.00' : '0.111'", "tickSize": 4, "labelPadding": 3, "grid": true, "gridOpacity": {"condition": {"test": "datum.value == 0", "value": 1}, "value": 0}, "labelOffset": {"condition": {"test": "datum.value > 0.05", "value": 10}, "value": 0}, "title": null, "domainWidth": 1.2}}
}
},
{
"data": {"name": "info"},
"mark": {"type": "text", "align": "left", "baseline": "middle", "font": "Noto Sans CJK TC", "fontSize": 19, "color": "#333333"},
"encoding": {
"x": {"datum": 95.6, "type": "quantitative", "scale": {"domain": [-0.656, 123.28], "nice": false, "zero": false, "padding": 0},
"axis": {"orient": "bottom", "values": [-0.11, 7.97, 16.05, 24.13, 32.21, 40.3, 48.38, 56.46, 64.54, 72.62, 80.7, 88.79, 96.87, 104.95, 113.03, 121.11], "labels": false, "ticks": false, "domain": false, "grid": true, "title": null}},
"y": {"datum": -0.1212, "type": "quantitative", "scale": {"domain": [-0.2095, 0.1122], "range": [564, 306], "nice": false, "zero": false, "padding": 0},
"axis": {"orient": "right", "values": [0.111, 0], "labelExpr": "datum.value == 0 ? '0.00' : '0.111'", "tickSize": 4, "labelPadding": 3, "grid": true, "gridOpacity": {"condition": {"test": "datum.value == 0", "value": 1}, "value": 0}, "labelOffset": {"condition": {"test": "datum.value > 0.05", "value": 10}, "value": 0}, "title": null, "domainWidth": 1.2}},
"text": {"field": "name"}
}
},
{
"data": {"name": "info"},
"mark": {"type": "text", "align": "left", "baseline": "middle", "font": "Liberation Sans", "fontSize": 19, "color": "#e60012"},
"encoding": {
"x": {"datum": 95.4, "type": "quantitative", "scale": {"domain": [-0.656, 123.28], "nice": false, "zero": false, "padding": 0},
"axis": {"orient": "bottom", "values": [-0.11, 7.97, 16.05, 24.13, 32.21, 40.3, 48.38, 56.46, 64.54, 72.62, 80.7, 88.79, 96.87, 104.95, 113.03, 121.11], "labels": false, "ticks": false, "domain": false, "grid": true, "title": null}},
"y": {"datum": -0.1487, "type": "quantitative", "scale": {"domain": [-0.2095, 0.1122], "range": [564, 306], "nice": false, "zero": false, "padding": 0},
"axis": {"orient": "right", "values": [0.111, 0], "labelExpr": "datum.value == 0 ? '0.00' : '0.111'", "tickSize": 4, "labelPadding": 3, "grid": true, "gridOpacity": {"condition": {"test": "datum.value == 0", "value": 1}, "value": 0}, "labelOffset": {"condition": {"test": "datum.value > 0.05", "value": 10}, "value": 0}, "title": null, "domainWidth": 1.2}},
"text": {"field": "site"}
}
}
]
}
]
}
